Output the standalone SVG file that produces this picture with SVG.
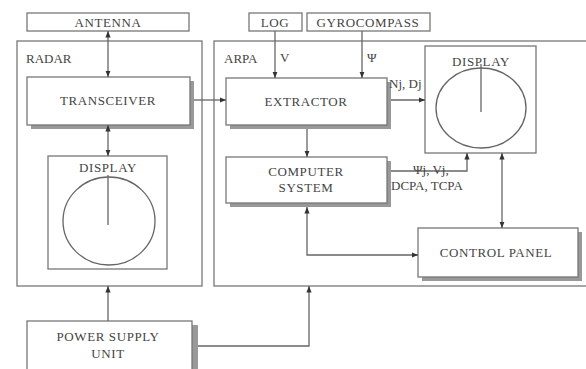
<svg xmlns="http://www.w3.org/2000/svg" width="586" height="369" viewBox="0 0 586 369">
<defs>
<marker id="ah" viewBox="0 0 10 10" refX="10" refY="5" markerWidth="5" markerHeight="5" orient="auto-start-reverse">
<path d="M0,1 L10,5 L0,9 z" fill="#333"/>
</marker>
<style>
.frame{fill:none;stroke:#777;stroke-width:1.3}
.box{fill:#fff;stroke:#777;stroke-width:1.3}
.sh{fill:#999;stroke:none}
.t{font-family:"Liberation Serif",serif;font-size:13px;fill:#444;text-anchor:middle;letter-spacing:0.6px}
.tl{font-family:"Liberation Serif",serif;font-size:13px;fill:#444}
.c{fill:none;stroke:#666;stroke-width:1.3}
.ln{fill:none;stroke:#666;stroke-width:1.3}
</style>
</defs>
<rect width="586" height="369" fill="#fff"/>
<g id="radar">
<rect class="frame" x="17" y="41" width="185" height="245"/>
<text class="tl" x="26" y="63">RADAR</text>
</g>
<g id="arpa">
<rect class="frame" x="214" y="41" width="380" height="245"/>
<text class="tl" x="224" y="63">ARPA</text>
</g>
<g id="antenna">
<rect class="box" x="27" y="13" width="162" height="18"/>
<text class="t" x="108" y="27">ANTENNA</text>
</g>
<g id="log">
<rect class="box" x="249" y="13" width="53" height="18"/>
<text class="t" x="275" y="27">LOG</text>
</g>
<g id="gyrocompass">
<rect class="box" x="307" y="13" width="123" height="18"/>
<text class="t" x="368" y="27" letter-spacing="0">GYROCOMPASS</text>
</g>
<g id="transceiver">
<rect class="sh" x="31" y="81" width="163" height="48"/>
<rect class="box" x="27" y="77" width="163" height="48"/>
<text class="t" x="108" y="105">TRANSCEIVER</text>
</g>
<g id="radar-display">
<rect class="box" x="48" y="156" width="119" height="113"/>
<ellipse class="c" cx="109" cy="221" rx="46" ry="44"/>
<text class="t" x="108" y="172">DISPLAY</text>
<line class="ln" x1="108" y1="175" x2="108" y2="225"/>
</g>
<g id="extractor">
<rect class="sh" x="230" y="82" width="161" height="47"/>
<rect class="box" x="226" y="78" width="161" height="47"/>
<text class="t" x="306" y="106">EXTRACTOR</text>
</g>
<g id="computer-system">
<rect class="sh" x="230" y="161" width="161" height="46"/>
<rect class="box" x="226" y="157" width="161" height="46"/>
<text class="t" x="306" y="176">COMPUTER</text>
<text class="t" x="306" y="192">SYSTEM</text>
</g>
<g id="arpa-display">
<rect class="box" x="425" y="46" width="111" height="107"/>
<ellipse class="c" cx="481" cy="108" rx="45" ry="40"/>
<text class="t" x="481" y="66">DISPLAY</text>
<line class="ln" x1="481" y1="64" x2="481" y2="112"/>
</g>
<g id="control-panel">
<rect class="sh" x="422" y="232" width="160" height="49"/>
<rect class="box" x="418" y="228" width="160" height="49"/>
<text class="t" x="496" y="257">CONTROL PANEL</text>
</g>
<g id="power-supply-unit">
<rect class="sh" x="192" y="325" width="6" height="44"/>
<rect class="box" x="27" y="321" width="165" height="50"/>
<text class="t" x="108" y="341">POWER SUPPLY</text>
<text class="t" x="108" y="358">UNIT</text>
</g>
<g id="connectors">
<line class="ln" x1="108" y1="31" x2="108" y2="77" marker-start="url(#ah)" marker-end="url(#ah)"/>
<line class="ln" x1="108" y1="125" x2="108" y2="156" marker-start="url(#ah)" marker-end="url(#ah)"/>
<line class="ln" x1="194" y1="100" x2="226" y2="100" marker-end="url(#ah)"/>
<line class="ln" x1="275" y1="31" x2="275" y2="78" marker-end="url(#ah)"/>
<text class="tl" x="280" y="62">V</text>
<line class="ln" x1="362" y1="31" x2="362" y2="78" marker-end="url(#ah)"/>
<text class="tl" x="367" y="62">Ψ</text>
<line class="ln" x1="391" y1="100" x2="425" y2="100" marker-end="url(#ah)"/>
<text class="tl" x="389" y="88">Nj, Dj</text>
<line class="ln" x1="307" y1="129" x2="307" y2="157" marker-end="url(#ah)"/>
<polyline class="ln" points="391,171 467,171 467,153" marker-end="url(#ah)"/>
<text class="tl" x="413" y="174">Ψj, Vj,</text>
<text class="tl" x="391" y="190">DCPA, TCPA</text>
<line class="ln" x1="502" y1="153" x2="502" y2="228" marker-start="url(#ah)" marker-end="url(#ah)"/>
<polyline class="ln" points="307,207 307,255 418,255" marker-start="url(#ah)" marker-end="url(#ah)"/>
<line class="ln" x1="108" y1="321" x2="108" y2="286" marker-end="url(#ah)"/>
<polyline class="ln" points="198,346 309,346 309,286" marker-end="url(#ah)"/>
</g>
</svg>
